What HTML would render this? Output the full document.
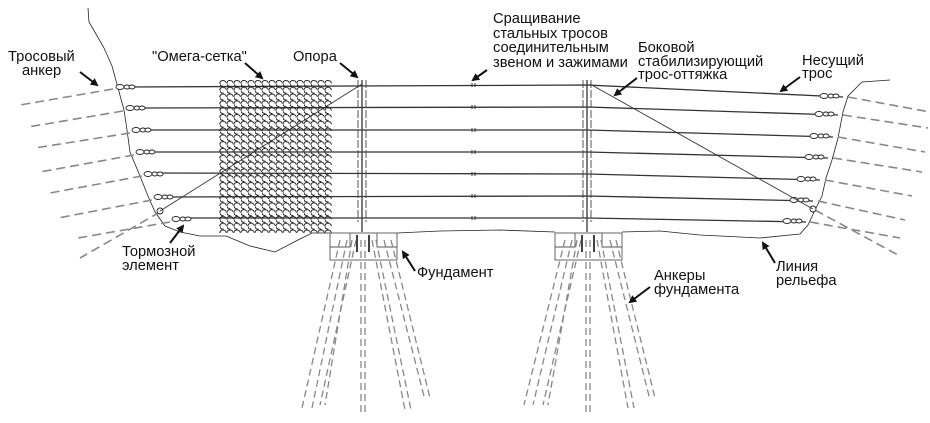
<!DOCTYPE html>
<html><head><meta charset="utf-8"><style>
html,body{margin:0;padding:0;background:#fff}
svg{display:block}
text{font-family:"Liberation Sans","Noto Sans CJK SC",sans-serif;font-size:14.7px;fill:#111}
</style></head><body>
<svg width="930" height="423" viewBox="0 0 930 423" xmlns="http://www.w3.org/2000/svg">
<defs>
<pattern id="om" x="220" y="80" width="7" height="6.8" patternUnits="userSpaceOnUse">
<path d="M3.5,0.6 A2.9,2.9 0 1 0 3.5,6.2 M3.5,0.6 A2.9,2.9 0 0 1 6.4,3.4" fill="none" stroke="#222" stroke-width="1"/>
</pattern>
<marker id="ar" markerWidth="8" markerHeight="8" refX="6" refY="4" orient="auto" markerUnits="userSpaceOnUse">
<path d="M0,0 L8,4 L0,8 Z" fill="#111"/>
</marker>
<g id="lk" fill="#fff" stroke="#222" stroke-width="0.9"><ellipse cx="0" cy="0" rx="4" ry="2.5"/><ellipse cx="7" cy="0" rx="3" ry="2"/><ellipse cx="12" cy="0" rx="3" ry="2"/></g>
</defs>
<!-- terrain -->
<g fill="none" stroke="#222" stroke-width="0.8">
<path d="M88,8 L89,22 L96,34 L104,48 L112,66 L118,88 L124,110 L127,130 L130,152 L140,176 L148,196 L155,212 L165,226 L180,232 L200,236 L226,236 L250,246 L275,252 L298,240 L312,233 L330,233"/>
<path d="M397,233 L440,231 L500,230 L555,232"/>
<path d="M622,232 L660,231 L700,235 L760,238 L800,234 L808,225 L815,210 L822,196 L826,178 L832,160 L838,138 L843,112 L848,96 L862,82 L890,80"/>
</g>
<!-- dashed anchor lines -->
<g stroke="#888" stroke-width="1.6" stroke-dasharray="9,5" fill="none">
<path d="M113,89 L20,105"/><path d="M123,111 L28,127"/><path d="M130,133 L35,148"/>
<path d="M134,155 L40,172"/><path d="M142,176 L50,193"/><path d="M152,200 L58,218"/>
<path d="M170,222 L78,238"/><path d="M160,212 L80,258"/>
<path d="M848,97 L930,112"/><path d="M843,115 L928,128"/><path d="M838,137 L925,152"/>
<path d="M833,158 L922,172"/><path d="M825,180 L912,196"/><path d="M818,201 L905,220"/>
<path d="M810,222 L900,238"/><path d="M815,210 L898,255"/>
</g>
<!-- cables -->
<g stroke="#333" stroke-width="1.3" fill="none">
<path d="M125,87 L587,85 L843,97"/>
<path d="M135,108 L587,107 L838,115"/>
<path d="M141,130 L587,130 L833,137"/>
<path d="M145,152 L587,152 L828,158"/>
<path d="M153,173 L587,174 L820,180"/>
<path d="M163,197 L587,196 L813,201"/>
<path d="M181,218 L587,218 L806,222"/>
</g>
<use href="#lk" x="120" y="87"/><use href="#lk" x="130" y="108"/><use href="#lk" x="136" y="130"/>
<use href="#lk" x="140" y="152"/><use href="#lk" x="148" y="174"/><use href="#lk" x="158" y="197"/>
<use href="#lk" x="176" y="219"/>
<use href="#lk" x="824" y="96"/><use href="#lk" x="819" y="114"/><use href="#lk" x="814" y="136"/>
<use href="#lk" x="809" y="157"/><use href="#lk" x="801" y="179"/><use href="#lk" x="794" y="200"/>
<use href="#lk" x="787" y="221"/>
<g fill="#fff" stroke="#222" stroke-width="0.9">
<circle cx="160" cy="211" r="3"/><circle cx="813" cy="209" r="3"/>
</g>
<!-- splices -->
<g stroke="#333" stroke-width="1" fill="none">
<path d="M472,83v4M475,83v4M472,105v4M475,105v4M472,128v4M475,128v4M472,150v4M475,150v4M472,172v4M475,172v4M472,194v4M475,194v4M472,216v4M475,216v4"/>
</g>
<!-- stabilizer diagonals -->
<g stroke="#333" stroke-width="0.9" fill="none">
<path d="M362,84 L160,211"/><path d="M590,84 L813,209"/>
</g>
<!-- mesh -->
<rect x="219" y="80" width="113" height="153" fill="url(#om)"/>
<!-- posts -->
<g stroke="#444" stroke-width="0.9" fill="none">
<path d="M358,80 V222 M366,80 V222" stroke-dasharray="8,2"/>
<path d="M362,80 V232" stroke-width="1.4"/>
<path d="M583,80 V222 M591,80 V222" stroke-dasharray="8,2"/>
<path d="M587,80 V232" stroke-width="1.4"/>
</g>
<!-- foundations -->
<g stroke="#555" stroke-width="0.9" fill="none">
<rect x="330" y="233" width="67" height="27"/>
<path d="M330,247 H350 V233 M397,247 H377 V233"/>
<rect x="555" y="233" width="67" height="27"/>
<path d="M555,247 H575 V233 M622,247 H602 V233"/>
<path d="M357,235 V252 M369,235 V252 M582,235 V252 M594,235 V252" stroke="#111" stroke-width="1.6"/>
</g>
<!-- foundation anchors -->
<g stroke="#888" stroke-width="1.3" stroke-dasharray="7,4" fill="none">
<path d="M340,240 L302,408"/><path d="M347,240 L312,408"/>
<path d="M352,240 L325,405"/><path d="M356,240 L320,405"/>
<path d="M361,240 V412"/><path d="M365,240 V412"/>
<path d="M372,240 L405,410"/><path d="M376,240 L411,410"/>
<path d="M384,240 L425,400"/><path d="M391,240 L430,398"/>
<path d="M565,240 L524,405"/><path d="M572,240 L533,405"/>
<path d="M577,240 L548,405"/><path d="M581,240 L543,405"/>
<path d="M586,240 V412"/><path d="M590,240 V412"/>
<path d="M597,240 L628,408"/><path d="M601,240 L634,408"/>
<path d="M610,240 L650,400"/><path d="M616,240 L655,398"/>
</g>
<!-- arrows -->
<g stroke="#111" stroke-width="2" fill="none" marker-end="url(#ar)">
<path d="M80,72 L97,85"/><path d="M245,63 L262,78"/><path d="M340,63 L357,77"/>
<path d="M487,70 L473,80"/><path d="M637,78 L615,95"/><path d="M800,77 L781,91"/>
<path d="M170,243 L183,226"/><path d="M415,271 L403,252"/><path d="M775,263 L763,243"/>
<path d="M650,287 L630,302"/>
</g>
<!-- labels -->
<text x="8" y="61">Тросовый</text><text x="22" y="75">анкер</text>
<text x="152" y="61">"Омега-сетка"</text>
<text x="293" y="61">Опора</text>
<text x="493" y="23">Сращивание</text><text x="493" y="38">стальных тросов</text>
<text x="493" y="52">соединительным</text><text x="493" y="67">звеном и зажимами</text>
<text x="638" y="52">Боковой</text><text x="638" y="66">стабилизирующий</text><text x="638" y="79">трос-оттяжка</text>
<text x="802" y="65">Несущий</text><text x="802" y="78">трос</text>
<text x="122" y="256">Тормозной</text><text x="122" y="270">элемент</text>
<text x="417" y="277">Фундамент</text>
<text x="654" y="280">Анкеры</text><text x="654" y="294">фундамента</text>
<text x="776" y="271">Линия</text><text x="776" y="285">рельефа</text>
</svg>
</body></html>
